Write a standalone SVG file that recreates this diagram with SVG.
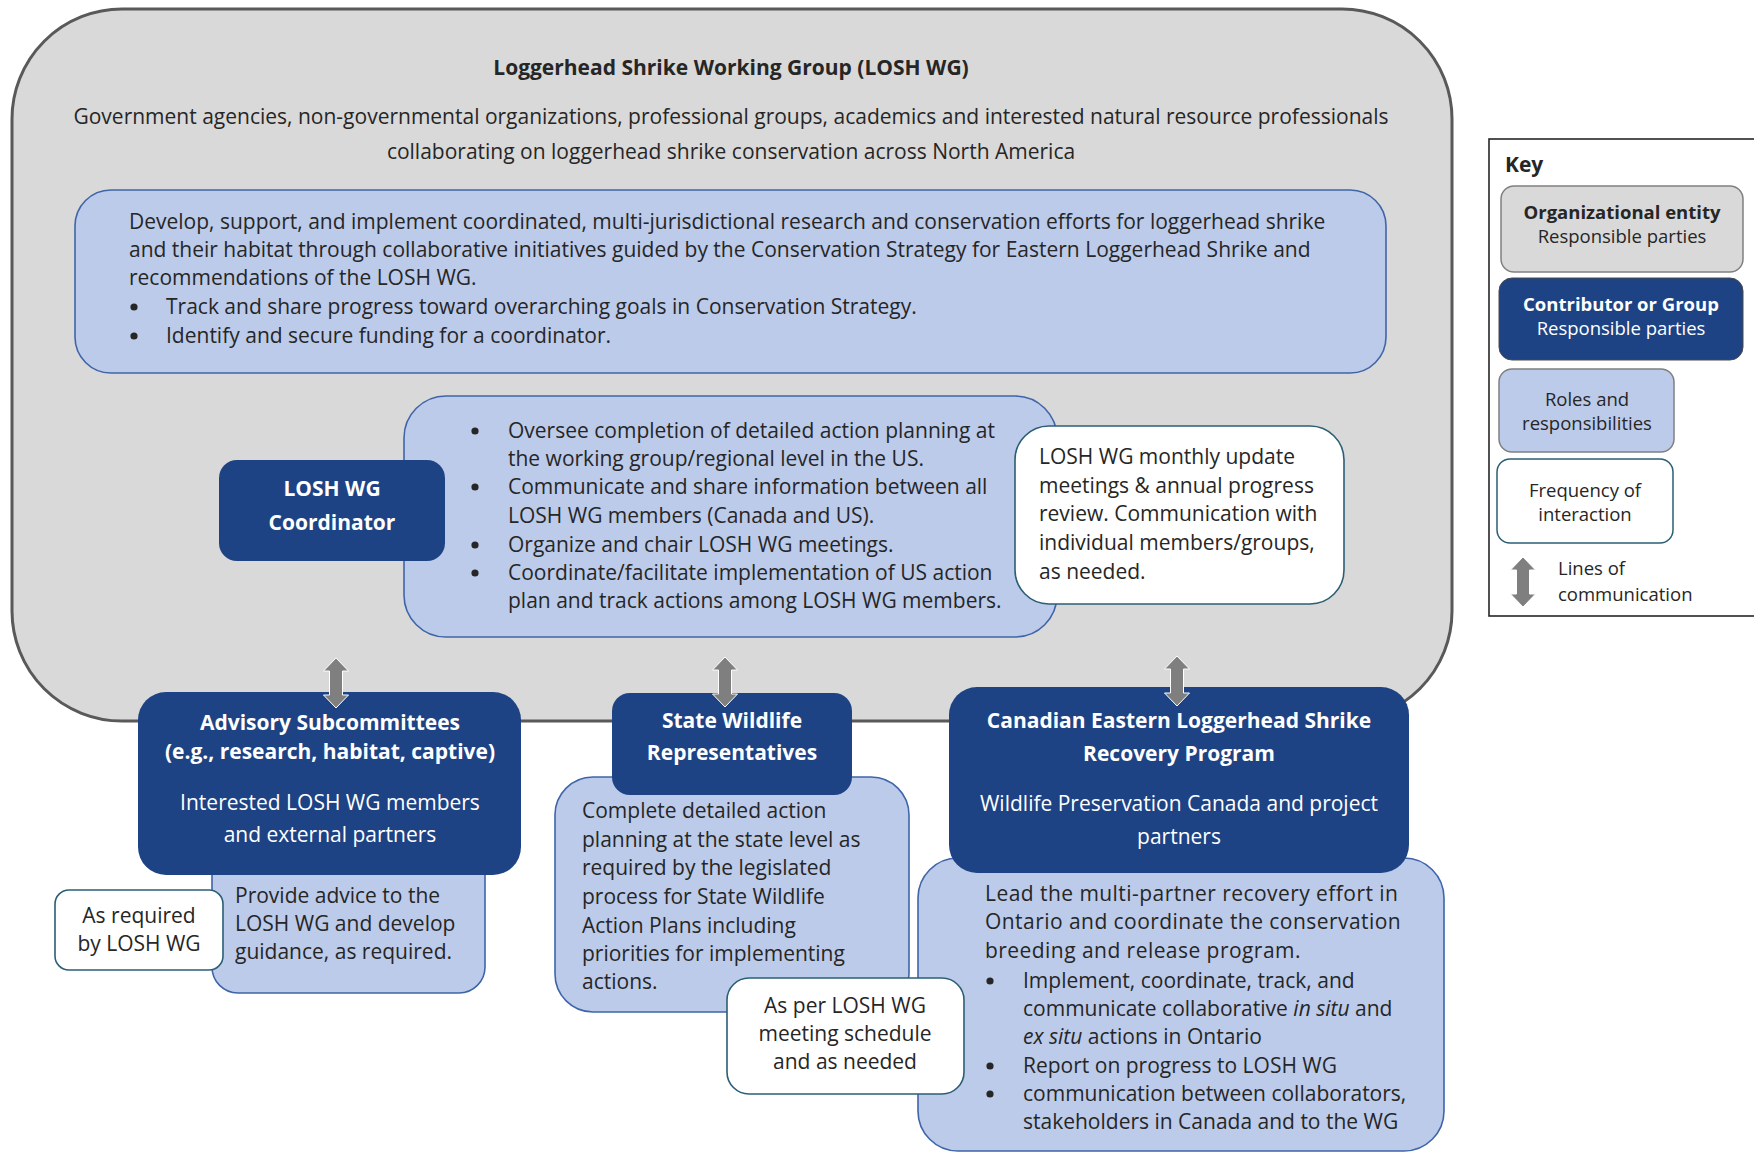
<svg xmlns="http://www.w3.org/2000/svg" width="1754" height="1153" viewBox="0 0 1754 1153">
  <style>
    text { font-family: "Open Sans", "Noto Sans", "DejaVu Sans", sans-serif; font-size: 21px; fill: #262626; }
    .b { font-weight: bold; }
    .w { fill: #ffffff; }
    .c { text-anchor: middle; }
    .k { font-size: 18.5px; }
    .wide { letter-spacing: 0.45px; }
    .dot { fill: #262626; }
    .org { fill: #d9d9d9; stroke: #595959; stroke-width: 3; }
    .grp { fill: #1e4384; }
    .role { fill: #bccbea; stroke: #3f65a8; stroke-width: 1.6; }
    .freq { fill: #ffffff; stroke: #2b5f75; stroke-width: 1.6; }
  </style>
  <defs>
    <!-- two-headed line of communication, 50 px tall, centred on x=0 -->
    <path id="dbl" d="M0,0 L12.5,13 L6.5,13 L6.5,37 L12.5,37 L0,50 L-12.5,37 L-6.5,37 L-6.5,13 L-12.5,13 Z" fill="#7f7f7f" stroke="#ffffff" stroke-width="1"/>
    <!-- list bullet -->
    <circle id="bul" r="3.6" class="dot"/>
  </defs>

  <rect width="1754" height="1153" fill="#ffffff"/>

  <!-- Working group (organizational entity) -->
  <g id="losh-wg">
    <rect class="org" x="12" y="9" width="1440" height="712" rx="110"/>
    <text class="b c" x="731" y="75">Loggerhead Shrike Working Group (LOSH WG)</text>
    <text class="c" x="731" y="124">Government agencies, non-governmental organizations, professional groups, academics and interested natural resource professionals</text>
    <text class="c" x="731" y="159">collaborating on loggerhead shrike conservation across North America</text>
  </g>

  <g id="wg-roles">
    <rect class="role" x="75" y="190" width="1311" height="183" rx="36"/>
    <text x="129" y="229">Develop, support, and implement coordinated, multi-jurisdictional research and conservation efforts for loggerhead shrike</text>
    <text x="129" y="257">and their habitat through collaborative initiatives guided by the Conservation Strategy for Eastern Loggerhead Shrike and</text>
    <text x="129" y="285">recommendations of the LOSH WG.</text>
    <use href="#bul" x="134" y="307"/>
    <text x="166" y="314">Track and share progress toward overarching goals in Conservation Strategy.</text>
    <use href="#bul" x="134" y="336"/>
    <text x="166" y="343">Identify and secure funding for a coordinator.</text>
  </g>

  <g id="coordinator-roles">
    <rect class="role" x="404" y="396" width="653" height="241" rx="42"/>
    <use href="#bul" x="475" y="431"/>
    <text x="508" y="438">Oversee completion of detailed action planning at</text>
    <text x="508" y="466">the working group/regional level in the US.</text>
    <use href="#bul" x="475" y="487"/>
    <text x="508" y="494">Communicate and share information between all</text>
    <text x="508" y="523">LOSH WG members (Canada and US).</text>
    <use href="#bul" x="475" y="545"/>
    <text x="508" y="552">Organize and chair LOSH WG meetings.</text>
    <use href="#bul" x="475" y="573"/>
    <text x="508" y="580">Coordinate/facilitate implementation of US action</text>
    <text x="508" y="608">plan and track actions among LOSH WG members.</text>
  </g>

  <g id="coordinator">
    <rect class="grp" x="219" y="460" width="226" height="101" rx="18"/>
    <text class="b w c" x="332" y="496">LOSH WG</text>
    <text class="b w c" x="332" y="530">Coordinator</text>
  </g>

  <g id="coordinator-frequency">
    <rect class="freq" x="1015" y="426" width="329" height="178" rx="34"/>
    <text x="1039" y="464">LOSH WG monthly update</text>
    <text x="1039" y="493">meetings &amp; annual progress</text>
    <text x="1039" y="521">review. Communication with</text>
    <text x="1039" y="550">individual members/groups,</text>
    <text x="1039" y="579">as needed.</text>
  </g>

  <!-- Advisory subcommittees -->
  <g id="advisory-roles">
    <rect class="role" x="212" y="840" width="273" height="153" rx="26"/>
    <text x="235" y="903">Provide advice to the</text>
    <text x="235" y="931">LOSH WG and develop</text>
    <text x="235" y="959">guidance, as required.</text>
  </g>
  <g id="advisory">
    <rect class="grp" x="138" y="692" width="383" height="183" rx="28"/>
    <text class="b w c" x="330" y="730">Advisory Subcommittees</text>
    <text class="b w c" x="330" y="759">(e.g., research, habitat, captive)</text>
    <text class="w c" x="330" y="810">Interested LOSH WG members</text>
    <text class="w c" x="330" y="842">and external partners</text>
  </g>
  <g id="advisory-frequency">
    <rect class="freq" x="55" y="890" width="168" height="80" rx="14"/>
    <text class="c" x="139" y="923">As required</text>
    <text class="c" x="139" y="951">by LOSH WG</text>
  </g>

  <!-- State wildlife representatives -->
  <g id="state-roles">
    <rect class="role" x="555" y="777" width="354" height="235" rx="38"/>
    <text x="582" y="818">Complete detailed action</text>
    <text x="582" y="847">planning at the state level as</text>
    <text x="582" y="875">required by the legislated</text>
    <text x="582" y="904">process for State Wildlife</text>
    <text x="582" y="933">Action Plans including</text>
    <text x="582" y="961">priorities for implementing</text>
    <text x="582" y="989">actions.</text>
  </g>
  <g id="state">
    <rect class="grp" x="612" y="693" width="240" height="102" rx="18"/>
    <text class="b w c" x="732" y="728">State Wildlife</text>
    <text class="b w c" x="732" y="760">Representatives</text>
  </g>

  <!-- Canadian recovery program -->
  <g id="canada-roles">
    <rect class="role" x="918" y="858" width="526" height="293" rx="40"/>
    <text class="wide" x="985" y="901">Lead the multi-partner recovery effort in</text>
    <text class="wide" x="985" y="929">Ontario and coordinate the conservation</text>
    <text class="wide" x="985" y="958">breeding and release program.</text>
    <use href="#bul" x="990" y="981"/>
    <text x="1023" y="988">Implement, coordinate, track, and</text>
    <text x="1023" y="1016">communicate collaborative <tspan font-style="italic">in situ</tspan> and</text>
    <text x="1023" y="1044"><tspan font-style="italic">ex situ</tspan> actions in Ontario</text>
    <use href="#bul" x="990" y="1066"/>
    <text x="1023" y="1073">Report on progress to LOSH WG</text>
    <use href="#bul" x="990" y="1094"/>
    <text x="1023" y="1101">communication between collaborators,</text>
    <text x="1023" y="1129">stakeholders in Canada and to the WG</text>
  </g>
  <g id="canada">
    <rect class="grp" x="949" y="687" width="460" height="186" rx="28"/>
    <text class="b w c" x="1179" y="728">Canadian Eastern Loggerhead Shrike</text>
    <text class="b w c" x="1179" y="761">Recovery Program</text>
    <text class="w c" x="1179" y="811">Wildlife Preservation Canada and project</text>
    <text class="w c" x="1179" y="844">partners</text>
  </g>

  <g id="state-frequency">
    <rect class="freq" x="727" y="978" width="237" height="116" rx="22"/>
    <text class="c" x="845" y="1013">As per LOSH WG</text>
    <text class="c" x="845" y="1041">meeting schedule</text>
    <text class="c" x="845" y="1069">and as needed</text>
  </g>

  <!-- Lines of communication -->
  <g id="connectors">
    <use href="#dbl" x="336" y="658"/>
    <use href="#dbl" x="725" y="657"/>
    <use href="#dbl" x="1177" y="656"/>
  </g>

  <!-- Key -->
  <g id="key">
    <rect x="1489" y="139" width="300" height="477" fill="#ffffff" stroke="#262626" stroke-width="1.6"/>
    <text class="b" x="1505" y="172" font-size="22">Key</text>
    <rect x="1501" y="186" width="242" height="86" rx="13" fill="#d9d9d9" stroke="#808080" stroke-width="1.5"/>
    <text class="k b c" x="1622" y="219">Organizational entity</text>
    <text class="k c" x="1622" y="243">Responsible parties</text>
    <rect x="1499" y="278" width="244" height="82" rx="13" fill="#1e4384" stroke="#4a4a4a" stroke-width="1"/>
    <text class="k b w c" x="1621" y="311">Contributor or Group</text>
    <text class="k w c" x="1621" y="335">Responsible parties</text>
    <rect x="1499" y="369" width="175" height="83" rx="13" fill="#bccbea" stroke="#808080" stroke-width="1.5"/>
    <text class="k c" x="1587" y="406">Roles and</text>
    <text class="k c" x="1587" y="430">responsibilities</text>
    <rect x="1497" y="459" width="176" height="84" rx="13" fill="#ffffff" stroke="#2b5f75" stroke-width="1.5"/>
    <text class="k c" x="1585" y="497">Frequency of</text>
    <text class="k c" x="1585" y="521">interaction</text>
    <use href="#dbl" x="1523" y="557"/>
    <text class="k" x="1558" y="575">Lines of</text>
    <text class="k" x="1558" y="601">communication</text>
  </g>
</svg>
